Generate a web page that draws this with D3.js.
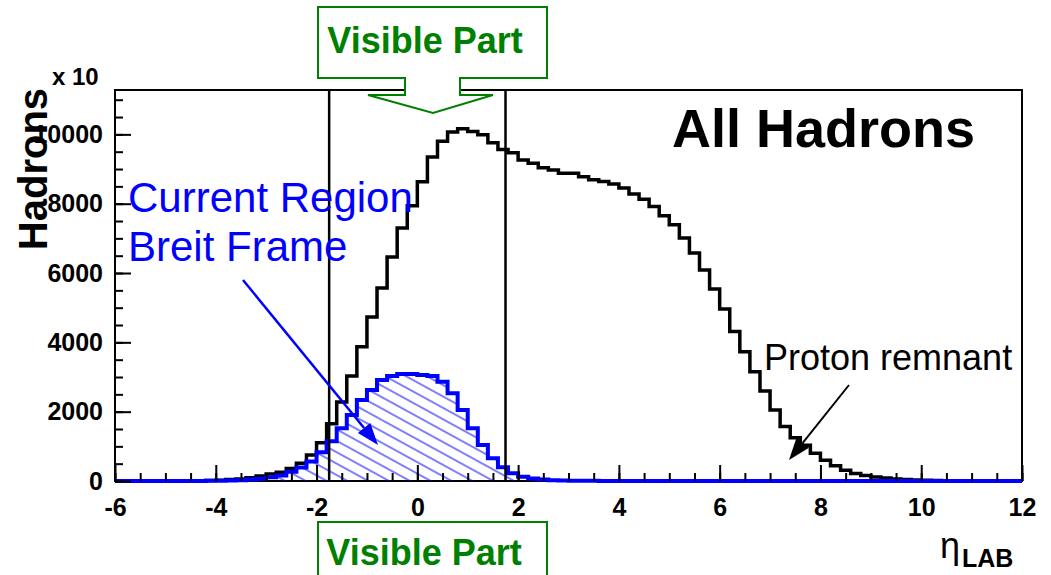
<!DOCTYPE html>
<html>
<head>
<meta charset="utf-8">
<script src="https://cdn.jsdelivr.net/npm/d3@7"></script>
<style>
  html, body { margin: 0; padding: 0; background: #fff; }
  svg { display: block; font-family: "Liberation Sans", Arial, Helvetica, sans-serif; }
</style>
</head>
<body>
<svg id="chart" width="1051" height="575"></svg>
<script>
// Pseudorapidity binning: 90 bins of width 0.2 from -6 to 12
const etaMin = -6;
const etaMax = 12;
const binWidth = 0.2;

// All hadrons per bin
const allHadrons = [
  0, 0, 0, 0, 0, 1, 2, 4, 8, 14,
  22, 40, 58, 95, 145, 200, 250, 360, 515, 750,
  1100, 1650, 2280, 3030, 3870, 4730, 5570, 6460, 7300, 7940,
  8630, 9350, 9800, 10070, 10160, 10080, 9990, 9760, 9560, 9470,
  9260, 9170, 9040, 8975, 8880, 8880, 8780, 8690, 8640, 8570,
  8450, 8280, 8130, 7920, 7650, 7390, 7010, 6580, 6090, 5540,
  4960, 4310, 3730, 3150, 2600, 2050, 1570, 1250, 1030, 800,
  600, 440, 310, 215, 160, 115, 85, 60, 45, 32,
  22, 15, 10, 7, 5, 3, 2, 1, 1, 0
];

// Hadrons of the current region of the Breit frame per bin
const currentRegion = [
  0, 0, 0, 0, 0, 0, 1, 2, 3, 6,
  10, 15, 25, 40, 65, 110, 160, 270, 390, 560,
  830, 1150, 1520, 1905, 2340, 2625, 2915, 3030, 3090, 3090,
  3060, 3030, 2865, 2530, 2050, 1520, 1040, 655, 395, 220,
  125, 75, 40, 25, 15, 10, 7, 5, 3, 2,
  1, 1, 1, 0, 0, 0, 0, 0, 0, 0,
  0, 0, 0, 0, 0, 0, 0, 0, 0, 0,
  0, 0, 0, 0, 0, 0, 0, 0, 0, 0,
  0, 0, 0, 0, 0, 0, 0, 0, 0, 0
];

// Edges of the visible (detector) part in eta
const visibleEdges = [-1.75, 1.75];

const xTicks = [-6, -4, -2, 0, 2, 4, 6, 8, 10, 12];
const yTicks = [0, 2000, 4000, 6000, 8000, 10000];

const svg = d3.select("#chart");
const frame = { left: 115, right: 1022, top: 90, bottom: 481 };

const x = d3.scaleLinear().domain([etaMin, etaMax]).range([frame.left, frame.right]);
const y = d3.scaleLinear().domain([0, 11280]).range([frame.bottom, frame.top]);

// Hatch pattern for the current region histogram
const defs = svg.append("defs");
const hatch = defs.append("pattern")
  .attr("id", "hatch")
  .attr("patternUnits", "userSpaceOnUse")
  .attr("width", 12)
  .attr("height", 10)
  .attr("patternTransform", "rotate(28.7)");
hatch.append("line")
  .attr("x1", 0).attr("x2", 12)
  .attr("y1", 5).attr("y2", 5)
  .attr("stroke", "#0000ff").attr("stroke-width", 1);

function stepPath(vals, close) {
  let p = `M${x(etaMin)},${y(0)}`;
  vals.forEach((v, i) => {
    p += `V${y(v)}H${x(etaMin + binWidth * (i + 1))}`;
  });
  p += `V${y(0)}`;
  if (close) p += "Z";
  return p;
}

// Frame
svg.append("rect")
  .attr("x", frame.left).attr("y", frame.top)
  .attr("width", frame.right - frame.left)
  .attr("height", frame.bottom - frame.top)
  .attr("fill", "none").attr("stroke", "#000").attr("stroke-width", 2);

// All hadrons
svg.append("path")
  .attr("d", stepPath(allHadrons, false))
  .attr("fill", "none").attr("stroke", "#000").attr("stroke-width", 3.5)
  .attr("stroke-linejoin", "miter");

// Current region: hatched fill and outline
svg.append("path")
  .attr("d", stepPath(currentRegion, true))
  .attr("fill", "url(#hatch)").attr("stroke", "none");
svg.append("path")
  .attr("d", stepPath(currentRegion, false))
  .attr("fill", "none").attr("stroke", "#0000ff").attr("stroke-width", 4);

// Visible region boundaries
svg.selectAll("line.edge")
  .data(visibleEdges)
  .enter().append("line")
  .attr("class", "edge")
  .attr("x1", d => x(d)).attr("x2", d => x(d))
  .attr("y1", frame.top).attr("y2", frame.bottom)
  .attr("stroke", "#000").attr("stroke-width", 2.5);

// Axes: ticks drawn inside the frame
const plain = d => String(d);
const yAxis = d3.axisLeft(y).tickValues(yTicks).tickSizeInner(-16).tickSizeOuter(0).tickPadding(12)
  .tickFormat(plain);
const yMinor = d3.axisLeft(y).tickValues(d3.range(0, 11280, 500)).tickSize(-8).tickFormat("");
const xAxis = d3.axisBottom(x).tickValues(xTicks).tickSizeInner(-16).tickSizeOuter(0).tickPadding(17)
  .tickFormat(plain);
const xMinor = d3.axisBottom(x).tickValues(d3.range(-6, 12.01, 0.5)).tickSize(-8).tickFormat("");

function styleAxis(g) {
  g.select(".domain").remove();
  g.selectAll(".tick line").attr("stroke", "#000").attr("stroke-width", 2);
  g.selectAll(".tick text")
    .attr("fill", "#000")
    .style("font-size", "25px")
    .style("font-weight", "bold")
    .style("font-family", '"Liberation Sans", Arial, sans-serif');
}

svg.append("g").attr("transform", `translate(${frame.left},0)`).call(yMinor).call(styleAxis);
svg.append("g").attr("transform", `translate(${frame.left},0)`).call(yAxis).call(styleAxis);
svg.append("g").attr("transform", `translate(0,${frame.bottom})`).call(xMinor).call(styleAxis);
svg.append("g").attr("transform", `translate(0,${frame.bottom})`).call(xAxis).call(styleAxis);

// Axis titles
svg.append("text")
  .attr("x", 52).attr("y", 85)
  .style("font-size", "24px").style("font-weight", "bold")
  .text("x 10");

svg.append("text")
  .attr("transform", "translate(47,169) rotate(-90)")
  .attr("text-anchor", "middle")
  .style("font-size", "40px").style("font-weight", "bold")
  .text("Hadrons");

const etaLabel = svg.append("text").attr("x", 940).attr("y", 558);
etaLabel.append("tspan").style("font-size", "36px").text("η");
etaLabel.append("tspan").attr("dy", 9).attr("dx", 2).style("font-size", "25px").style("font-weight", "bold").text("LAB");

// Title
svg.append("text")
  .attr("x", 672).attr("y", 147)
  .style("font-size", "54px").style("font-weight", "bold")
  .text("All Hadrons");

// Current region annotation
svg.append("text")
  .attr("x", 128).attr("y", 212)
  .attr("fill", "#0000ff")
  .style("font-size", "42px")
  .text("Current Region");
svg.append("text")
  .attr("x", 128).attr("y", 261)
  .attr("fill", "#0000ff")
  .style("font-size", "42px")
  .text("Breit Frame");

function arrow(x0, y0, x1, y1, color, width, headLen, headHalf) {
  const dx = x1 - x0, dy = y1 - y0;
  const L = Math.hypot(dx, dy);
  const ux = dx / L, uy = dy / L;
  const bx = x1 - ux * headLen, by = y1 - uy * headLen;
  svg.append("line")
    .attr("x1", x0).attr("y1", y0).attr("x2", bx).attr("y2", by)
    .attr("stroke", color).attr("stroke-width", width);
  svg.append("path")
    .attr("d", `M${x1},${y1}L${bx - uy * headHalf},${by + ux * headHalf}L${bx + uy * headHalf},${by - ux * headHalf}Z`)
    .attr("fill", color);
}

arrow(243, 280, 378, 445, "#0000ff", 2.5, 22, 8);

// Proton remnant annotation
svg.append("text")
  .attr("x", 764).attr("y", 370)
  .attr("fill", "#000")
  .style("font-size", "36px")
  .text("Proton remnant");
arrow(849, 385, 789, 460, "#000", 2, 22, 8);

// Visible part boxes
const green = "#008000";
svg.append("path")
  .attr("d", "M318,7H547V78H460V95H493L433,113L368,95H405V78H318Z")
  .attr("fill", "#fff").attr("stroke", green).attr("stroke-width", 2);
svg.append("text")
  .attr("x", 425).attr("y", 53)
  .attr("text-anchor", "middle")
  .attr("fill", green)
  .style("font-size", "36px").style("font-weight", "bold")
  .text("Visible Part");

svg.append("rect")
  .attr("x", 318).attr("y", 522).attr("width", 229).attr("height", 80)
  .attr("fill", "#fff").attr("stroke", green).attr("stroke-width", 2);
svg.append("text")
  .attr("x", 424).attr("y", 565)
  .attr("text-anchor", "middle")
  .attr("fill", green)
  .style("font-size", "36px").style("font-weight", "bold")
  .text("Visible Part");
</script>
</body>
</html>
